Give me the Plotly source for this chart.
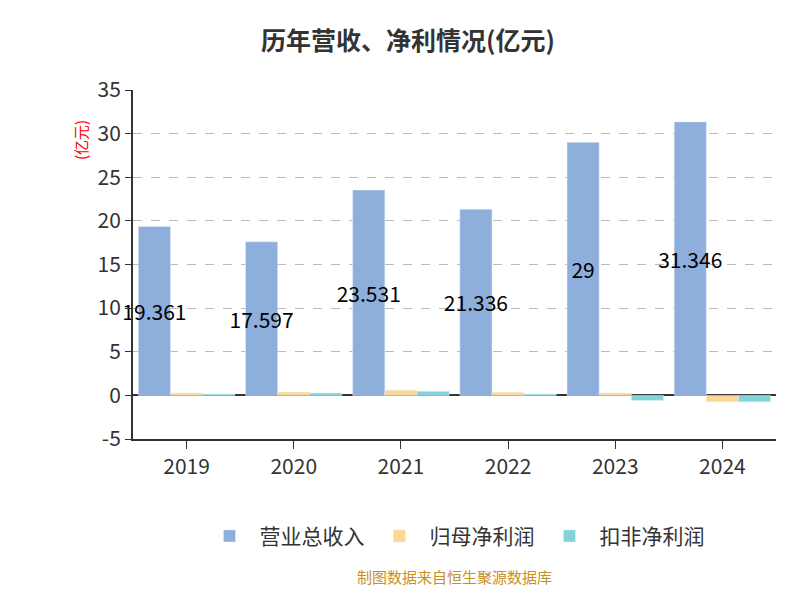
import plotly.graph_objects as go

years = ["2019", "2020", "2021", "2022", "2023", "2024"]
revenue = [19.361, 17.597, 23.531, 21.336, 29, 31.346]
net_profit = [0.27, 0.38, 0.6, 0.35, 0.27, -0.73]
net_profit_deducted = [0.15, 0.27, 0.46, 0.15, -0.6, -0.73]
revenue_labels = ["19.361", "17.597", "23.531", "21.336", "29", "31.346"]
y_ticks = [-5, 0, 5, 10, 15, 20, 25, 30, 35]

font = "Noto Sans CJK SC"

fig = go.Figure()
fig.add_trace(go.Bar(
    x=years, y=revenue, name="营业总收入", marker_color="#8eaedb",
    text=revenue_labels, textposition="inside", insidetextanchor="middle",
    constraintext="none", textfont=dict(size=21, color="black"),
    textangle=0, cliponaxis=False,
))
fig.add_trace(go.Bar(x=years, y=net_profit, name="归母净利润", marker_color="#fdd797"))
fig.add_trace(go.Bar(x=years, y=net_profit_deducted, name="扣非净利润", marker_color="#83d4d9"))

fig.update_layout(
    width=800, height=600,
    font=dict(family=font, color="#333"),
    plot_bgcolor="white", paper_bgcolor="white",
    title=dict(text="<b>历年营收、净利情况(亿元)</b>", x=0.5, y=0.96,
               font=dict(size=25, color="#333")),
    margin=dict(l=125, r=32, t=82, b=169),
    barmode="group", bargap=0.1, bargroupgap=0.0,
    legend=dict(orientation="h", x=0.5, xanchor="center", y=-0.22, yanchor="top",
                font=dict(size=21), itemwidth=50),
    xaxis=dict(showline=True, linecolor="#333", linewidth=2, ticks="outside",
               ticklen=8, tickcolor="#333", tickfont=dict(size=21),
               zeroline=False),
    yaxis=dict(range=[-5, 35], tickvals=y_ticks, ticktext=[str(v) for v in y_ticks],
               showline=True, linecolor="#333", linewidth=2,
               ticks="outside", ticklen=6, tickcolor="#333", tickfont=dict(size=21),
               gridcolor="#bbb", griddash="dash", zeroline=True,
               zerolinecolor="#333", zerolinewidth=2),
    annotations=[
        dict(text="(亿元)", x=-0.1, y=0.92, xref="paper", yref="paper", showarrow=False,
             textangle=-90, font=dict(size=15, color="red")),
        dict(text="制图数据来自恒生聚源数据库", x=0.5, y=-0.43, xref="paper", yref="paper",
             xanchor="center", showarrow=False, font=dict(size=15, color="#c8901e")),
    ],
)

fig.write_html("out.html")
